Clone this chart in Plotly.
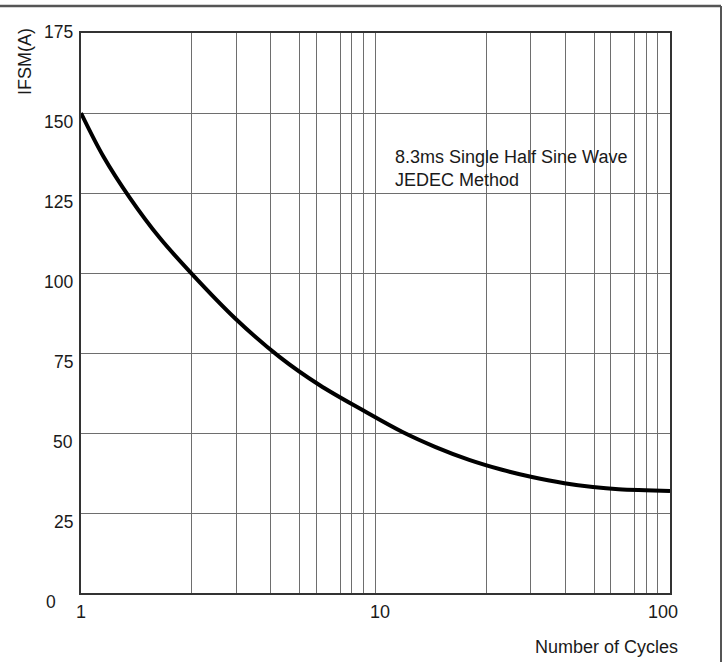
import math
import plotly.graph_objects as go

# ---- data ----
cycles = [1.0, 1.19, 1.465, 1.85, 2.37, 3.34, 4.72, 6.45, 9.1, 12.35, 16.0,
          20.8, 26.9, 33.4, 43.8, 54.7, 66.9, 82.4, 100.0]
ifsm = [150.0, 136.5, 123.5, 111.0, 99.9, 85.8, 73.8, 65.0, 57.0, 50.3, 45.6,
        41.6, 38.5, 36.4, 34.3, 33.1, 32.4, 32.1, 31.9]

x_tick_vals = [1, 10, 100]
x_tick_text = ["1", "10", "100"]
y_tick_vals = [0, 25, 50, 75, 100, 125, 150, 175]
y_tick_text = ["0", "25", "50", "75", "100", "125", "150", "175"]

# minor vertical grid lines as drawn on the original sheet (per decade)
grid_in_decade = [2.38, 3.36, 4.41, 5.52, 6.3, 7.6, 8.3, 9.1]
minor_grid = [g * d for d in (1, 10) for g in grid_in_decade]

note_lines = ["8.3ms Single Half Sine Wave", "JEDEC Method"]
x_title = "Number of Cycles"
y_title = "IFSM(A)"

FONT = "Liberation Sans, Arial, sans-serif"
TXT = "#1a1a1a"
GRID = "#6e6e6e"

fig = go.Figure()
fig.add_trace(go.Scatter(x=cycles, y=ifsm, mode="lines",
                         line=dict(color="black", width=4, shape="spline", smoothing=1.0),
                         hoverinfo="skip", showlegend=False))

fig.update_layout(
    width=725, height=662,
    margin=dict(l=81, r=55, t=33, b=69),
    paper_bgcolor="white", plot_bgcolor="white",
    font=dict(family=FONT, size=18, color=TXT),
    showlegend=False,
)
fig.update_xaxes(
    type="log", range=[0, 2],
    tickvals=x_tick_vals, ticktext=x_tick_text, showticklabels=False,
    showgrid=True, gridcolor=GRID, gridwidth=1,
    minor=dict(tickmode="array", tickvals=minor_grid, showgrid=True,
               gridcolor=GRID, gridwidth=1, ticks=""),
    showline=True, linecolor="#333333", linewidth=1.5, mirror=True,
    ticks="", zeroline=False,
)
fig.update_yaxes(
    range=[0, 175], tickvals=y_tick_vals, showticklabels=False,
    showgrid=True, gridcolor=GRID, gridwidth=1,
    showline=True, linecolor="#333333", linewidth=1.5, mirror=True,
    ticks="", zeroline=False,
)

annotations = []
# y tick labels (sheet prints them slightly below the grid lines)
for v, t in zip(y_tick_vals, y_tick_text):
    ysh = 1 if v == y_tick_vals[-1] else -9
    xsh = -23 if v == 0 else -6
    annotations.append(dict(x=0, xref="paper", y=v, yref="y", text=t, showarrow=False,
                            xanchor="right", yanchor="middle", xshift=xsh, yshift=ysh,
                            font=dict(size=17.5, family=FONT, color=TXT)))
# x tick labels
x_shifts = {1: 0, 10: 4, 100: -7}
for v, t in zip(x_tick_vals, x_tick_text):
    annotations.append(dict(x=math.log10(v), xref="x", y=0, yref="paper", text=t,
                            showarrow=False, xanchor="center", yanchor="middle",
                            xshift=x_shifts[v], yshift=-19,
                            font=dict(size=18, family=FONT, color=TXT)))
annotations.append(dict(x=0.8925, xref="paper", y=-0.0959, yref="paper", text=x_title,
                        showarrow=False, xanchor="center", yanchor="middle",
                        font=dict(size=18, family=FONT, color=TXT)))
annotations.append(dict(x=-0.0951, xref="paper", y=0.95, yref="paper", text=y_title,
                        showarrow=False, xanchor="center", yanchor="middle", textangle=-90,
                        font=dict(size=18, family=FONT, color=TXT)))
annotations.append(dict(x=0.530, xref="paper", y=0.758, yref="paper",
                        text="<br>".join(note_lines), showarrow=False, align="left",
                        xanchor="left", yanchor="middle",
                        font=dict(size=18, family=FONT, color=TXT)))
fig.update_layout(annotations=annotations)

# outer frame of the datasheet figure (top and right edges)
fig.add_shape(type="line", xref="paper", yref="paper", x0=-0.2, x1=1.0866, y0=1.048, y1=1.048,
              line=dict(color="#555555", width=2.5))
fig.add_shape(type="line", xref="paper", yref="paper", x0=1.0866, x1=1.0866, y0=1.048, y1=-0.2,
              line=dict(color="#555555", width=2))

fig.write_html(
    "out.html",
    config={"displayModeBar": False},
    post_script="document.body.style.margin='0';document.body.style.overflow='hidden';",
)
